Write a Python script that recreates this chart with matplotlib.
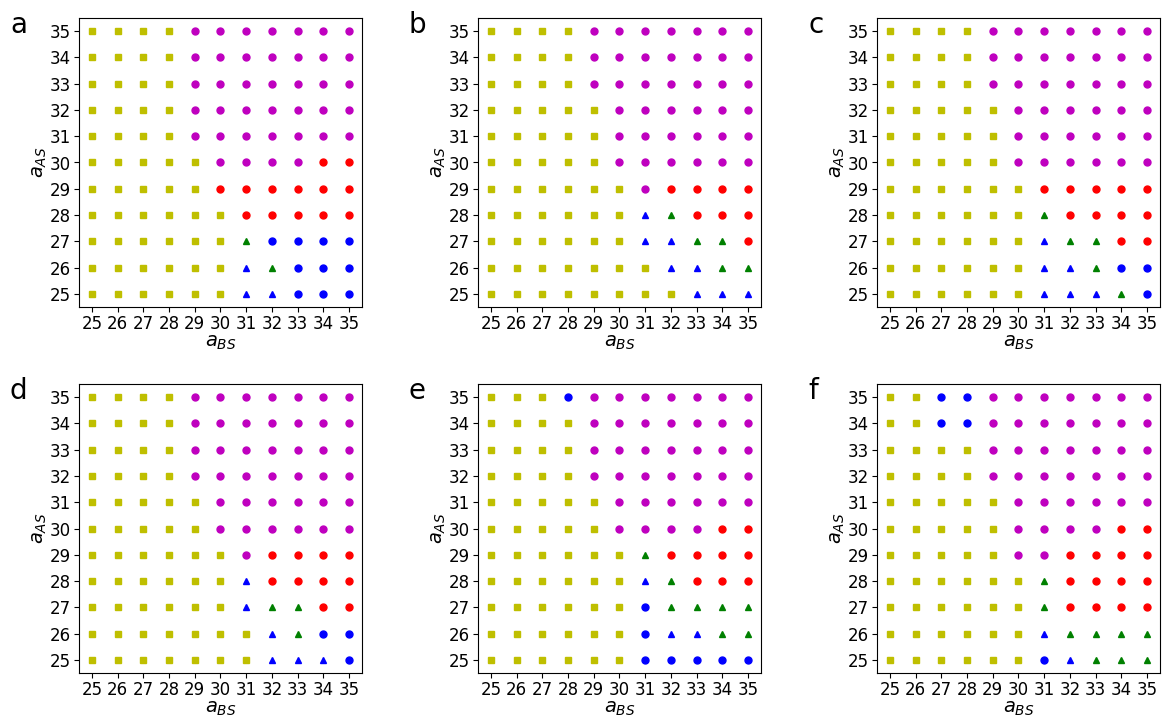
import numpy as np
import matplotlib
matplotlib.use('Agg')
from matplotlib import pyplot as plt

# a_BS on x (25..35), a_AS on y (rows listed from 35 down to 25)
a_bs = list(range(25, 36))
a_as = list(range(35, 24, -1))

# Y = yellow square, M = magenta dot, R = red dot, B = blue dot,
# T = blue triangle, G = green triangle
panel_a = ['YYYYMMMMMMM', 'YYYYMMMMMMM', 'YYYYMMMMMMM', 'YYYYMMMMMMM',
           'YYYYMMMMMMM', 'YYYYYMMMMRR', 'YYYYYRRRRRR', 'YYYYYYRRRRR',
           'YYYYYYGBBBB', 'YYYYYYTGBBB', 'YYYYYYTTBBB']
panel_b = ['YYYYMMMMMMM', 'YYYYMMMMMMM', 'YYYYMMMMMMM', 'YYYYYMMMMMM',
           'YYYYYMMMMMM', 'YYYYYMMMMMM', 'YYYYYYMRRRR', 'YYYYYYTGRRR',
           'YYYYYYTTGGR', 'YYYYYYYTTGG', 'YYYYYYYYTTT']
panel_c = ['YYYYMMMMMMM', 'YYYYMMMMMMM', 'YYYYMMMMMMM', 'YYYYYMMMMMM',
           'YYYYYMMMMMM', 'YYYYYMMMMMM', 'YYYYYYRRRRR', 'YYYYYYGRRRR',
           'YYYYYYTGGRR', 'YYYYYYTTGBB', 'YYYYYYTTTGB']
panel_d = ['YYYYMMMMMMM', 'YYYYMMMMMMM', 'YYYYMMMMMMM', 'YYYYMMMMMMM',
           'YYYYYMMMMMM', 'YYYYYMMMMMM', 'YYYYYYMRRRR', 'YYYYYYTRRRR',
           'YYYYYYTGGRR', 'YYYYYYYTGBB', 'YYYYYYYTTTB']
panel_e = ['YYYBMMMMMMM', 'YYYYMMMMMMM', 'YYYYMMMMMMM', 'YYYYMMMMMMM',
           'YYYYYMMMMMM', 'YYYYYMMMMRR', 'YYYYYYGRRRR', 'YYYYYYTGRRR',
           'YYYYYYBGGGG', 'YYYYYYBTTGG', 'YYYYYYBBBBB']
panel_f = ['YYBBMMMMMMM', 'YYBBMMMMMMM', 'YYYYMMMMMMM', 'YYYYMMMMMMM',
           'YYYYYMMMMMM', 'YYYYYMMMMRR', 'YYYYYMMRRRR', 'YYYYYYGRRRR',
           'YYYYYYGRRRR', 'YYYYYYTGGGG', 'YYYYYYBTGGG']

panels = [('a', panel_a), ('b', panel_b), ('c', panel_c),
          ('d', panel_d), ('e', panel_e), ('f', panel_f)]
styles = {'Y': 'ys', 'M': 'mo', 'R': 'ro', 'B': 'bo', 'T': 'b^', 'G': 'g^'}

W, H = 1162, 717
fig = plt.figure(figsize=(W / 100, H / 100), dpi=100)

lefts = [79, 478, 877]
tops = [18, 384]
aw, ah = 283, 289

for k, (name, grid) in enumerate(panels):
    col, row = k % 3, k // 3
    l, t = lefts[col], tops[row]
    ax = fig.add_axes([l / W, 1 - (t + ah) / H, aw / W, ah / H])
    for code, fmt in styles.items():
        xs, ys = [], []
        for i, line in enumerate(grid):
            for j, c in enumerate(line):
                if c == code:
                    xs.append(a_bs[j])
                    ys.append(a_as[i])
        if xs:
            ax.plot(xs, ys, fmt, ms=5)
    ax.set_xlim(24.5, 35.5)
    ax.set_ylim(24.5, 35.5)
    ax.set_xticks(a_bs)
    ax.set_yticks(a_as)
    ax.tick_params(labelsize=12, pad=2.5)
    ax.set_xlabel('$a_{BS}$', fontsize=14, labelpad=0)
    ax.set_ylabel('$a_{AS}$', fontsize=14, labelpad=0)
    fig.text((l - 69) / W, 1 - (t + 7) / H, name, fontsize=20, va='center')

fig.savefig('out.png', dpi=100)
